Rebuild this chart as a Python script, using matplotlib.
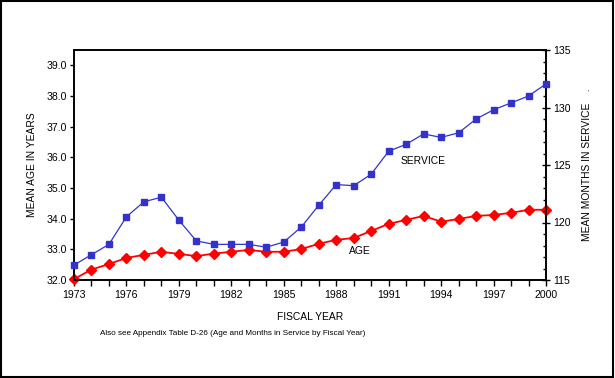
import matplotlib
matplotlib.use("Agg")
import matplotlib.pyplot as plt
from matplotlib.patches import Rectangle
from matplotlib.ticker import MultipleLocator, FormatStrFormatter

plt.rcParams['font.family'] = ['Liberation Sans', 'DejaVu Sans']

years = list(range(1973, 2001))
age = [32.03, 32.34, 32.52, 32.72, 32.82, 32.92, 32.85, 32.78, 32.86, 32.92,
       32.98, 32.92, 32.92, 33.01, 33.18, 33.31, 33.37, 33.60, 33.83, 33.96,
       34.09, 33.90, 33.99, 34.09, 34.12, 34.19, 34.29, 34.29]
service = [116.3, 117.2, 118.1, 120.5, 121.8, 122.2, 120.2, 118.4, 118.1, 118.1,
           118.1, 117.85, 118.3, 119.6, 121.5, 123.3, 123.2, 124.2, 126.2, 126.8,
           127.7, 127.4, 127.8, 129.0, 129.8, 130.4, 131.0, 132.05]
xtick_labels = [1973, 1976, 1979, 1982, 1985, 1988, 1991, 1994, 1997, 2000]

W, H = 615, 378
fig = plt.figure(figsize=(W/100, H/100), dpi=100)
ax = fig.add_axes([74/W, 1-280/H, (546-74)/W, (280-50)/H])
ax2 = ax.twinx()

fs = 7.6
lfs = 7.4
ax.plot(years, age, color='#FF0000', lw=1.3, marker='D', ms=4.6, zorder=3, clip_on=False)
ax2.plot(years, service, color='#3333CC', lw=0.9, marker='s', ms=5, zorder=3, clip_on=False)

ax.set_xlim(1973, 2000)
ax.set_ylim(32.0, 39.5)
ax2.set_ylim(115, 135)

ax.set_xticks(years, minor=True)
ax.set_xticks(xtick_labels)
ax.set_xticklabels([str(y) for y in xtick_labels], fontsize=fs)
ax.tick_params(axis='x', which='both', direction='out', length=4, width=1, pad=3)
ax.tick_params(axis='x', which='minor', length=4)

ax.yaxis.set_major_locator(MultipleLocator(1.0))
ax.yaxis.set_major_formatter(FormatStrFormatter('%.1f'))
ax.tick_params(axis='y', which='major', direction='out', length=3, width=1, labelsize=fs, pad=2)

ax2.yaxis.set_major_locator(MultipleLocator(5))
ax2.yaxis.set_minor_locator(MultipleLocator(1))
ax2.tick_params(axis='y', which='major', direction='inout', length=6, width=1, labelsize=fs, pad=2)
ax2.tick_params(axis='y', which='minor', direction='in', length=2.5, width=1)

for a in (ax, ax2):
    for s in a.spines.values():
        s.set_linewidth(1.2)
        s.set_color('black')

ax.set_ylabel('MEAN AGE IN YEARS', fontsize=lfs)
ax.yaxis.set_label_coords((37-74)/(546-74), 0.5)
ax2.set_ylabel('MEAN MONTHS IN SERVICE    .', fontsize=lfs)
ax2.yaxis.set_label_coords((582-74)/(546-74), 0.5)
ax.set_xlabel('FISCAL YEAR', fontsize=lfs)
ax.xaxis.set_label_coords(0.5, -(312-280)/(280-50))

fig.text(401/W, 1-160.7/H, 'SERVICE', fontsize=lfs, ha='left', va='center')
fig.text(349/W, 1-250.7/H, 'AGE', fontsize=lfs, ha='left', va='center')
fig.text(100/W, 1-333.5/H, 'Also see Appendix Table D-26 (Age and Months in Service by Fiscal Year)',
         fontsize=5.9, ha='left', va='center')

fig.patches.append(Rectangle((1/W, 1/H), (W-3)/W, (H-2)/H, transform=fig.transFigure,
                             fill=False, edgecolor='black', lw=1.5))

fig.savefig('out.png', dpi=100)
